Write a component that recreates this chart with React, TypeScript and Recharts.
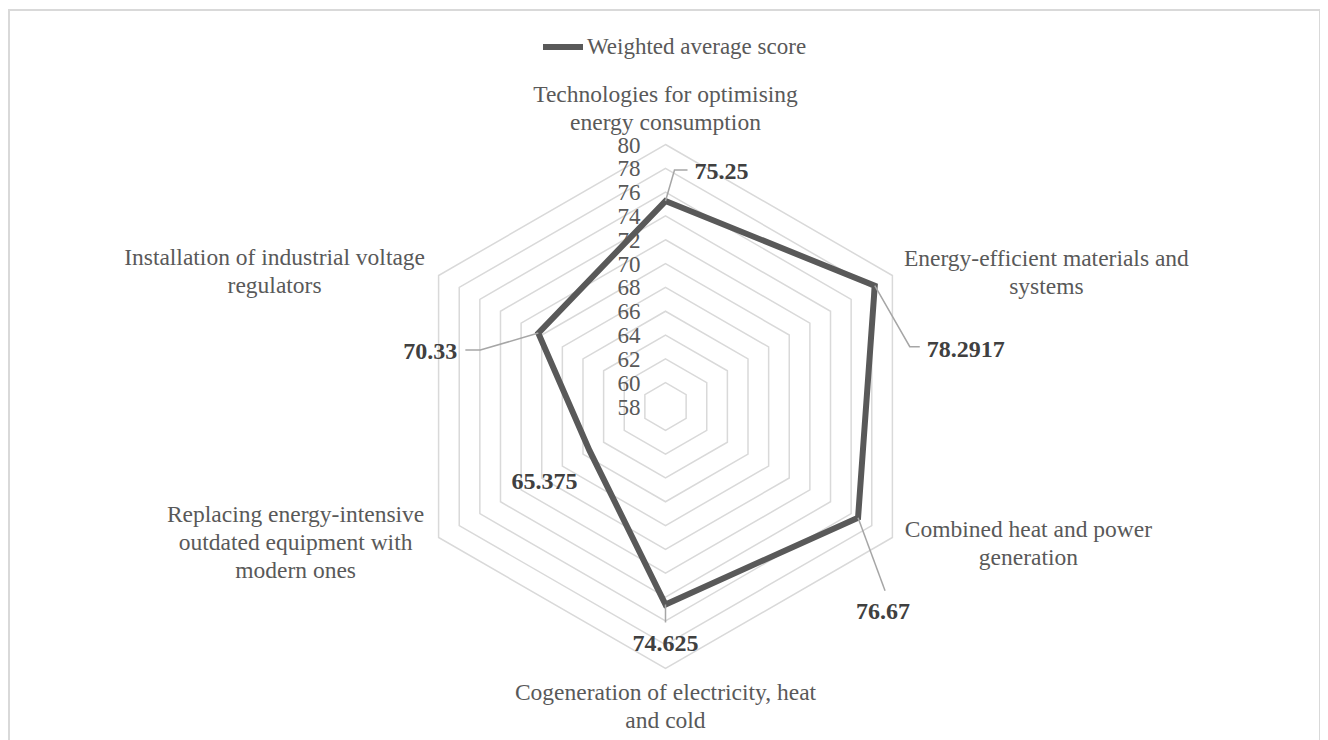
import React from 'react';
import { RadarChart, Radar, PolarGrid, PolarAngleAxis, PolarRadiusAxis } from 'recharts';

// Categories (line breaks mark where the axis label wraps)
const categories = [
  'Technologies for optimising\nenergy consumption',
  'Energy-efficient materials and\nsystems',
  'Combined heat and power\ngeneration',
  'Cogeneration of electricity, heat\nand cold',
  'Replacing energy-intensive\noutdated equipment with\nmodern ones',
  'Installation of industrial voltage\nregulators',
];

const scores = [75.25, 78.2917, 76.67, 74.625, 65.375, 70.33];

const radiusTicks = [58, 60, 62, 64, 66, 68, 70, 72, 74, 76, 78, 80];

const seriesName = 'Weighted average score';

const data = categories.map((category, i) => ({ category, score: scores[i] }));

const FONT = "'Times New Roman', 'Liberation Serif', serif";
const TEXT_GREY = '#595959';
const GRID_GREY = '#d9d9d9';

const CHART_W = 1309;
const CHART_H = 760;
const CX = 655.5;
const CY = 395.5;
const R = 262;
const RAD = Math.PI / 180;

// where each category label sits relative to its outer grid vertex
const categoryLayout = [
  { dx: 0, dy: -43 },
  { dx: 154, dy: -9.5 },
  { dx: 136, dy: -1 },
  { dx: 0, dy: 31 },
  { dx: -143, dy: -16 },
  { dx: -164, dy: -10.5 },
];
const LINE_H = 28;

// leader lines and text placement for the value labels, relative to each point
const valueLayout = [
  { leader: [[0, 0], [9, -31], [22, -31]], anchor: 'start', dx: 29, dy: -30 },
  { leader: [[0, 0], [35, 61], [45, 61]], anchor: 'start', dx: 52, dy: 63 },
  { leader: [[0, 0], [27, 73]], anchor: 'middle', dx: 25, dy: 93 },
  { leader: [[0, 0], [0, 18]], anchor: 'middle', dx: 0, dy: 38 },
  { leader: [], anchor: 'end', dx: -12, dy: 30 },
  { leader: [[0, 0], [-58, 17], [-73, 17]], anchor: 'end', dx: -81, dy: 18 },
];

const CategoryTick = (props: any) => {
  const { payload, index } = props;
  const angle = payload?.coordinate ?? 90 - index * 60;
  const vx = CX + R * Math.cos(-angle * RAD);
  const vy = CY + R * Math.sin(-angle * RAD);
  const lay = categoryLayout[index] ?? { dx: 0, dy: 0 };
  const lines = String(payload.value).split('\n');
  const x = vx + lay.dx;
  return (
    <text
      x={x}
      y={vy + lay.dy}
      textAnchor="middle"
      fill={TEXT_GREY}
      fontSize={23.5}
      fontFamily={FONT}
    >
      {lines.map((line, i) => (
        <tspan key={i} x={x} dy={i === 0 ? 0 : LINE_H}>
          {line}
        </tspan>
      ))}
    </text>
  );
};

const RadiusTick = (props: any) => {
  const { x, y, payload } = props;
  return (
    <text
      x={x - 25}
      y={y}
      dy="0.35em"
      textAnchor="end"
      fill={TEXT_GREY}
      fontSize={23}
      fontFamily={FONT}
    >
      {payload.value}
    </text>
  );
};

const ValueLabel = (props: any) => {
  const { cx, cy, index } = props;
  const lay = valueLayout[index];
  if (!lay || cx == null || cy == null) return <g key={`v-${index}`} />;
  const pts = lay.leader.map(([dx, dy]) => `${cx + dx},${cy + dy}`).join(' ');
  return (
    <g key={`v-${index}`}>
      {lay.leader.length > 0 && (
        <polyline points={pts} fill="none" stroke="#a6a6a6" strokeWidth={1.5} />
      )}
      <text
        x={cx + lay.dx}
        y={cy + lay.dy}
        dy="0.35em"
        textAnchor={lay.anchor as any}
        fill="#404040"
        fontSize={24}
        fontWeight="bold"
        fontFamily={FONT}
      >
        {scores[index]}
      </text>
    </g>
  );
};

export default function App() {
  return (
    <div
      style={{
        position: 'relative',
        width: CHART_W,
        height: CHART_H,
        marginTop: 1,
        border: `2px solid ${GRID_GREY}`,
        background: '#fff',
      }}
    >
      <div
        style={{
          position: 'absolute',
          left: 533,
          top: 23,
          display: 'flex',
          alignItems: 'center',
          fontFamily: FONT,
          fontSize: 23,
          color: TEXT_GREY,
          whiteSpace: 'nowrap',
        }}
      >
        <svg width={40} height={8} style={{ marginRight: 4 }}>
          <line x1={0} y1={4} x2={40} y2={4} stroke={TEXT_GREY} strokeWidth={6} />
        </svg>
        <span>{seriesName}</span>
      </div>
      <RadarChart
        width={CHART_W}
        height={CHART_H}
        data={data}
        cx={CX}
        cy={CY}
        outerRadius={R}
        margin={{ top: 0, right: 0, bottom: 0, left: 0 }}
      >
        <PolarGrid gridType="polygon" radialLines={false} stroke={GRID_GREY} strokeWidth={1.5} />
        <PolarAngleAxis dataKey="category" tick={<CategoryTick />} tickLine={false} axisLine={false} />
        <PolarRadiusAxis
          angle={90}
          type="number"
          domain={[58, 80]}
          ticks={radiusTicks}
          tickCount={12}
          axisLine={false}
          tick={<RadiusTick />}
        />
        <Radar
          name={seriesName}
          dataKey="score"
          stroke={TEXT_GREY}
          strokeWidth={6}
          fill="none"
          fillOpacity={0}
          dot={ValueLabel}
          isAnimationActive={false}
        />
      </RadarChart>
    </div>
  );
}
